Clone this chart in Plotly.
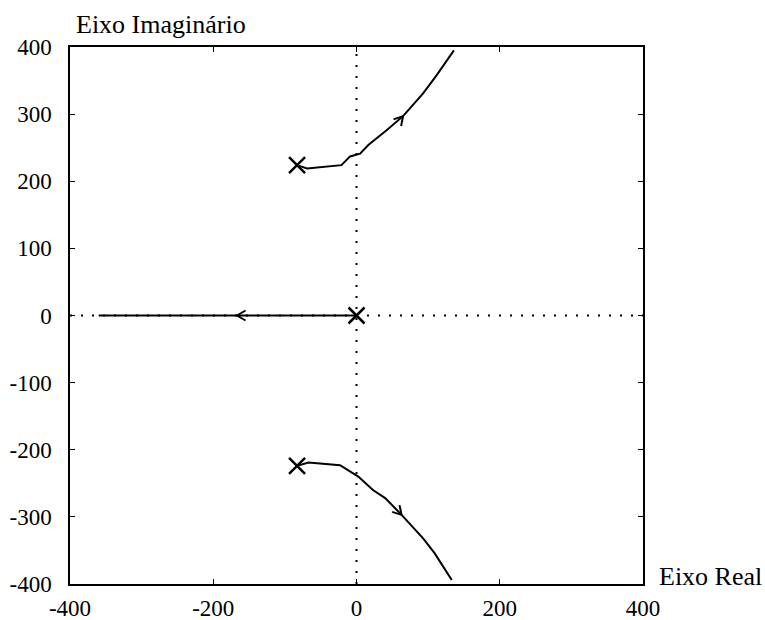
import numpy as np
import plotly.graph_objects as go

# Root locus branches
upper_re = [-83, -69, -21, -9, 5, 16.5, 42, 65, 93, 112, 136]
upper_im = [224, 219, 224, 237, 241, 254, 276, 297, 331, 358, 395]
lower_re = [-83, -67, -23, -9, 2.5, 23, 40, 63, 93, 109, 133]
lower_im = [-224, -219, -223, -233, -240, -260, -272, -297, -332, -354, -394]
real_re = [0, -360]
real_im = [0, 0]

# Open-loop poles
poles_re = [-83, -83, 0]
poles_im = [224, -224, 0]

# Arrow positions and direction (towards next point)
arrow_at = [(65, 297), (63, -297), (-167, 0)]
arrow_dir = [(28, 34), (30, -35), (-1, 0)]

xticks = [-400, -200, 0, 200, 400]
xticktext = ["-400", "-200", "0", "200", "400"]
yticks = [-400, -300, -200, -100, 0, 100, 200, 300, 400]
yticktext = ["-400", "-300", "-200", "-100", "0", "100", "200", "300", "400"]

W, H = 765, 620
L, R, T, B = 70, 122, 47, 36
pw, ph = W - L - R, H - T - B
sx = pw / 800.0
sy = ph / 800.0

fig = go.Figure()
# dotted axes through origin
fig.add_trace(go.Scatter(x=[-400, 400], y=[0, 0], mode="lines",
                         line=dict(color="black", width=2, dash="2px,9px"), hoverinfo="skip"))
fig.add_trace(go.Scatter(x=[0, 0], y=[-400, 400], mode="lines",
                         line=dict(color="black", width=2, dash="2px,9px"), hoverinfo="skip"))

for xs, ys in [(upper_re, upper_im), (lower_re, lower_im), (real_re, real_im)]:
    fig.add_trace(go.Scatter(x=xs, y=ys, mode="lines",
                             line=dict(color="black", width=2), hoverinfo="skip"))

# arrow heads (open V), computed in pixel space
for (ax, ay), (dx, dy) in zip(arrow_at, arrow_dir):
    vx, vy = dx * sx, dy * sy
    n = np.hypot(vx, vy)
    vx, vy = vx / n, vy / n
    xs, ys = [], []
    for ang in (np.radians(150), np.radians(-150)):
        wx = vx * np.cos(ang) - vy * np.sin(ang)
        wy = vx * np.sin(ang) + vy * np.cos(ang)
        xs += [ax + wx * 10 / sx, ax, None]
        ys += [ay + wy * 10 / sy, ay, None]
    fig.add_trace(go.Scatter(x=xs, y=ys, mode="lines",
                             line=dict(color="black", width=2), hoverinfo="skip"))

fig.add_trace(go.Scatter(x=poles_re, y=poles_im, mode="markers",
                         marker=dict(symbol="x-thin", size=16,
                                     line=dict(color="black", width=2.5), color="black"),
                         hoverinfo="skip"))

SERIF = "Liberation Serif, Times New Roman, serif"
tick_font = dict(family=SERIF, size=23, color="black")
label_font = dict(family=SERIF, size=26, color="black")
axis_common = dict(range=[-400, 400], showline=True, linecolor="black", linewidth=1.5,
                   mirror="ticks", ticks="inside", ticklen=5, tickcolor="black",
                   showgrid=False, zeroline=False, tickfont=tick_font)
fig.update_xaxes(tickvals=xticks, ticktext=xticktext, ticklabelstandoff=3, **axis_common)
fig.update_yaxes(tickvals=yticks, ticktext=yticktext, ticklabelstandoff=12, **axis_common)

fig.add_annotation(text="Eixo Imaginário", xref="paper", yref="paper", x=0.0, y=1.0,
                   xanchor="left", yanchor="bottom", xshift=4, yshift=6, showarrow=False,
                   font=label_font)
fig.add_annotation(text="Eixo Real", xref="paper", yref="paper", x=1.0, y=0.0,
                   xanchor="left", yanchor="middle", xshift=14, yshift=8, showarrow=False,
                   font=label_font)

fig.update_layout(width=W, height=H, margin=dict(l=L, r=R, t=T, b=B, autoexpand=False),
                  font=dict(family=SERIF, color="black"),
                  plot_bgcolor="white", paper_bgcolor="white", showlegend=False)
fig.write_html("out.html")
